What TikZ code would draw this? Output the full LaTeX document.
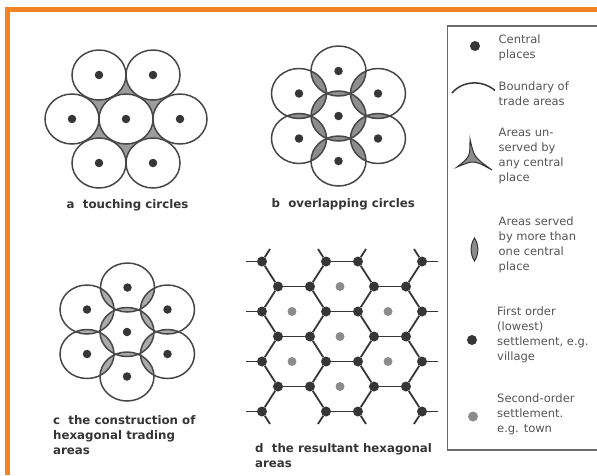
\documentclass[tikz,border=0pt]{standalone}
\usepackage{fontspec}
\setmainfont{DejaVu Sans}
\definecolor{ink}{HTML}{363636}
\definecolor{rim}{HTML}{474747}
\definecolor{shadeA}{HTML}{9C9C9C}
\definecolor{lensB}{HTML}{8E8E8E}
\definecolor{lensC}{HTML}{ABABAB}
\definecolor{town}{HTML}{8C8C8C}
\definecolor{legtext}{HTML}{555555}
\definecolor{boxline}{HTML}{6A6A6A}
\definecolor{framecol}{HTML}{F28322}
\begin{document}
\begin{tikzpicture}[x=1pt,y=-1pt,
  ring/.style={draw=rim,line width=1.5pt},
  cdot/.style={circle,fill=ink,inner sep=0pt,minimum size=8.5pt},
  vtx/.style={circle,fill=ink,inner sep=0pt,minimum size=10pt},
  gdot/.style={circle,fill=town,inner sep=0pt,minimum size=9pt},
  hexedge/.style={draw=ink,line width=1.8pt},
  symline/.style={draw=ink,line width=1.3pt},
  caption/.style={anchor=north west,inner sep=0pt,align=left,text=ink,font=\bfseries\fontsize{11.8}{15}\selectfont},
  legtxt/.style={anchor=north west,inner sep=0pt,align=left,text=legtext,font=\fontsize{11.5}{15}\selectfont},
]
\useasboundingbox (0,0) rectangle (597,475);
\fill[white] (0,0) rectangle (597,475);
% orange frame (top and left)
\draw[framecol,line width=5pt] (7.5,475) -- (7.5,9.3) -- (597,9.3);

% ---------- panel a : touching circles ----------
\foreach \n/\x/\y in {aC/126/119,aW/72/119,aE/180/119,aNW/99/75,aNE/153/75,aSW/99/163,aSE/153/163}
  \coordinate (\n) at (\x,\y);
\fill[shadeA] (aW) -- (aNW) -- (aNE) -- (aE) -- (aSE) -- (aSW) -- cycle;
\foreach \n in {aC,aW,aE,aNW,aNE,aSW,aSE}
  \draw[ring,fill=white] (\n) ellipse [x radius=27pt,y radius=25pt];
\foreach \n in {aC,aW,aE,aNW,aNE,aSW,aSE}
  \node[cdot] (d\n) at (\n) {};
\node[caption] (capA) at (66.5,199.5) {a\ \ touching circles};

% ---------- panel b : overlapping circles ----------
\foreach \n/\x/\y in {bC/338.5/116,bT/338.5/71,bB/338.5/161,bUL/299/93.5,bUR/378/93.5,bLL/299/138.5,bLR/378/138.5}
  \coordinate (\n) at (\x,\y);
\foreach \p/\q in {bC/bT,bC/bUR,bC/bLR,bC/bB,bC/bLL,bC/bUL,bT/bUR,bUR/bLR,bLR/bB,bB/bLL,bLL/bUL,bUL/bT}{
  \begin{scope}
    \clip (\p) ellipse [x radius=27.5pt,y radius=25pt];
    \fill[lensB] (\q) ellipse [x radius=27.5pt,y radius=25pt];
  \end{scope}
}
\foreach \n in {bC,bT,bB,bUL,bUR,bLL,bLR}
  \draw[ring] (\n) ellipse [x radius=27.5pt,y radius=25pt];
\foreach \n in {bC,bT,bB,bUL,bUR,bLL,bLR}
  \node[cdot] (d\n) at (\n) {};
\node[caption] (capB) at (271.5,198.5) {b\ \ overlapping circles};

% ---------- panel c : construction of hexagonal areas ----------
\foreach \n/\x/\y in {cC/127/332,cT/127.5/287.5,cB/127/376.5,cUL/87/309.5,cUR/167.5/309.5,cLL/87/354,cLR/167.5/354}
  \coordinate (\n) at (\x,\y);
\foreach \p/\q in {cC/cT,cC/cUR,cC/cLR,cC/cB,cC/cLL,cC/cUL,cT/cUR,cUR/cLR,cLR/cB,cB/cLL,cLL/cUL,cUL/cT}{
  \begin{scope}
    \clip (\p) ellipse [x radius=27pt,y radius=24.5pt];
    \fill[lensC] (\q) ellipse [x radius=27pt,y radius=24.5pt];
  \end{scope}
}
\foreach \n in {cC,cT,cB,cUL,cUR,cLL,cLR}
  \draw[ring] (\n) ellipse [x radius=27pt,y radius=24.5pt];
\foreach \n in {cC,cT,cB,cUL,cUR,cLL,cLR}
  \node[cdot] (d\n) at (\n) {};
\node[caption] (capC) at (53,415) {c\ \ the construction of\\hexagonal trading\\areas};

% ---------- panel d : resultant hexagonal areas ----------
\foreach \k in {0,2,4,6}{
  \foreach \i/\x in {1/262,2/326,3/358,4/422}
    \node[vtx] (v\k-\i) at (\x,{261.5+25*\k}) {};
}
\foreach \k in {1,3,5}{
  \foreach \i/\x in {1/278,2/310,3/374,4/406}
    \node[vtx] (v\k-\i) at (\x,{261.5+25*\k}) {};
}
% horizontal edges
\foreach \k in {0,2,4,6}
  \draw[hexedge] (v\k-2) -- (v\k-3);
\foreach \k in {1,3,5}{
  \draw[hexedge] (v\k-1) -- (v\k-2);
  \draw[hexedge] (v\k-3) -- (v\k-4);
}
% slanted edges
\foreach \j [evaluate=\j as \up using int(\j-1), evaluate=\j as \dn using int(\j+1)] in {1,3,5}{
  \foreach \i in {1,2,3,4}{
    \draw[hexedge] (v\up-\i) -- (v\j-\i);
    \draw[hexedge] (v\j-\i) -- (v\dn-\i);
  }
}
% spokes on the edge of the lattice
\foreach \k in {0,2,4,6}{
  \coordinate (sl\k) at (246,{261.5+25*\k});
  \coordinate (sr\k) at (438,{261.5+25*\k});
  \draw[hexedge] (v\k-1) -- (sl\k);
  \draw[hexedge] (v\k-4) -- (sr\k);
}
\foreach \i/\x in {1/270,2/318,3/366,4/414}{
  \coordinate (st\i) at (\x,249);
  \coordinate (sb\i) at (\x,424);
  \draw[hexedge] (v0-\i) -- (st\i);
  \draw[hexedge] (v6-\i) -- (sb\i);
}
% second-order centres
\foreach \n/\x/\y in {h1/340/286.5,h2/340/336.5,h3/340/386.5,h4/292/311.5,h5/292/361.5,h6/388/311.5,h7/388/361.5}
  \node[gdot] (\n) at (\x,\y) {};
\node[caption] (capD) at (255,443.5) {d\ \ the resultant hexagonal\\areas};

% ---------- legend ----------
\draw[boxline,line width=1.2pt] (598,26) -- (447.5,26) -- (447.5,450) -- (598,450);
\node[cdot,minimum size=10pt] (k1) at (475,46) {};
\node[legtxt] (t1) at (498.5,34.5) {Central\\places};
\draw[symline,line width=1.5pt] (452,93) .. controls (463,80) and (483,80) .. (495,90.5);
\node[legtxt] (t2) at (498.5,81.5) {Boundary of\\trade areas};
\filldraw[fill=town,draw=ink,line width=1pt]
  (470,139) .. controls (474,157) .. (492,170)
  .. controls (474,160) .. (457,167)
  .. controls (470,157) .. cycle;
\node[legtxt] (t3) at (498.5,128) {Areas un-\\served by\\any central\\place};
\filldraw[fill=town,draw=ink,line width=1pt]
  (474.5,238) .. controls (479,245) and (479,254) .. (474.5,261)
  .. controls (470,254) and (470,245) .. cycle;
\node[legtxt] (t4) at (498.5,216.5) {Areas served\\by more than\\one central\\place};
\node[cdot,minimum size=10pt] (k5) at (472,340) {};
\node[legtxt] (t5) at (497,307) {First order\\(lowest)\\settlement, e.g.\\village};
\node[gdot,minimum size=10pt] (k6) at (473,416.5) {};
\node[legtxt] (t6) at (497,394) {Second-order\\settlement.\\e.g. town};
\end{tikzpicture}
\end{document}
